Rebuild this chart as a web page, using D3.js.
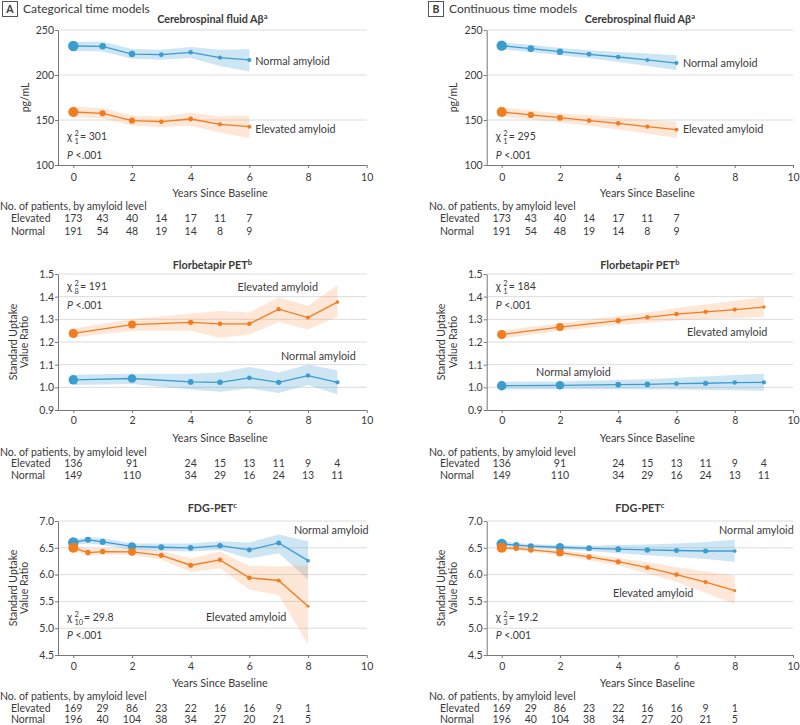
<!DOCTYPE html>
<html><head><meta charset="utf-8">
<script src="https://cdn.jsdelivr.net/npm/d3@7"></script>
<style>
body{margin:0;background:#fff;}
text{font-family:Lato,"Open Sans",sans-serif;fill:#3a3a3a;}
</style></head>
<body><svg id="c" width="800" height="725"></svg>
<script>
// ---------- DATA ----------
const xTicks = [0, 2, 4, 6, 8, 10];
// Cerebrospinal fluid Abeta
const csfX = [0, 1, 2, 3, 4, 5, 6];
const csfTableX = [0, 1, 2, 3, 4, 5, 6];
const csfElevN = [173, 43, 40, 14, 17, 11, 7];
const csfNormN = [191, 54, 48, 19, 14, 8, 9];
const csfCatNorm = [232.2, 231.9, 223.3, 222.6, 225.2, 219.3, 216.7];
const csfCatNormLo = [227, 226, 218, 217, 219, 210, 204];
const csfCatNormHi = [237, 237, 229, 228, 231, 228, 229];
const csfCatElev = [158.9, 157.4, 149.3, 148.1, 151.1, 145.2, 142.6];
const csfCatElevLo = [153, 152, 144, 142, 144, 136, 130];
const csfCatElevHi = [165, 163, 155, 154, 158, 154, 155];
const csfConNorm = [232.6, 229.3, 225.9, 223.0, 220.0, 216.7, 213.3];
const csfConNormLo = [228.5, 225.5, 222, 218.5, 214.5, 210, 205.6];
const csfConNormHi = [236.3, 233.5, 230, 227.5, 225.5, 224, 222];
const csfConElev = [158.9, 155.6, 152.6, 149.3, 146.3, 142.6, 139.3];
const csfConElevLo = [153.5, 150.5, 147.5, 143.5, 139.5, 135, 130];
const csfConElevHi = [164, 160.5, 157.5, 155, 153, 150.5, 148];
// Florbetapir PET
const fbpX = [0, 2, 4, 5, 6, 7, 8, 9];
const fbpElevN = [136, 91, 24, 15, 13, 11, 9, 4];
const fbpNormN = [149, 110, 34, 29, 16, 24, 13, 11];
const fbpCatElev = [1.238, 1.277, 1.287, 1.280, 1.280, 1.345, 1.308, 1.376];
const fbpCatElevLo = [1.22, 1.25, 1.25, 1.218, 1.233, 1.288, 1.255, 1.312];
const fbpCatElevHi = [1.26, 1.30, 1.326, 1.337, 1.33, 1.397, 1.36, 1.452];
const fbpCatNorm = [1.033, 1.039, 1.024, 1.022, 1.042, 1.022, 1.052, 1.022];
const fbpCatNormLo = [1.01, 1.015, 0.99, 0.98, 0.995, 0.975, 1.01, 0.97];
const fbpCatNormHi = [1.055, 1.06, 1.06, 1.065, 1.09, 1.065, 1.10, 1.075];
const fbpConElev = [1.233, 1.266, 1.294, 1.309, 1.323, 1.333, 1.343, 1.354];
const fbpConElevLo = [1.215, 1.25, 1.275, 1.285, 1.295, 1.30, 1.305, 1.31];
const fbpConElevHi = [1.25, 1.283, 1.315, 1.33, 1.35, 1.365, 1.382, 1.40];
const fbpConNorm = [1.007, 1.009, 1.012, 1.013, 1.016, 1.018, 1.021, 1.022];
const fbpConNormLo = [0.99, 0.992, 0.992, 0.99, 0.99, 0.988, 0.987, 0.985];
const fbpConNormHi = [1.025, 1.026, 1.032, 1.036, 1.042, 1.048, 1.054, 1.06];
// FDG-PET
const fdgX = [0, 0.5, 1, 2, 3, 4, 5, 6, 7, 8];
const fdgTableX = [0, 1, 2, 3, 4, 5, 6, 7, 8];
const fdgElevN = [169, 29, 86, 23, 22, 16, 16, 9, 1];
const fdgNormN = [196, 40, 104, 38, 34, 27, 20, 21, 5];
const fdgElevPointN = [169, 29, 29, 86, 23, 22, 16, 16, 9, 1];
const fdgNormPointN = [196, 40, 40, 104, 38, 34, 27, 20, 21, 5];
const fdgCatNorm = [6.60, 6.65, 6.61, 6.525, 6.51, 6.50, 6.54, 6.46, 6.59, 6.26];
const fdgCatNormLo = [6.55, 6.58, 6.55, 6.46, 6.44, 6.43, 6.46, 6.30, 6.40, 5.91];
const fdgCatNormHi = [6.66, 6.70, 6.68, 6.58, 6.58, 6.58, 6.62, 6.60, 6.75, 6.62];
const fdgCatElev = [6.50, 6.41, 6.43, 6.425, 6.36, 6.175, 6.275, 5.94, 5.89, 5.41];
const fdgCatElevLo = [6.45, 6.35, 6.37, 6.37, 6.28, 6.05, 6.12, 5.72, 5.62, 4.70];
const fdgCatElevHi = [6.56, 6.48, 6.49, 6.48, 6.44, 6.30, 6.43, 6.16, 6.15, 6.17];
const fdgConNorm = [6.57, 6.55, 6.53, 6.51, 6.49, 6.475, 6.46, 6.45, 6.44, 6.44];
const fdgConNormLo = [6.53, 6.52, 6.50, 6.47, 6.44, 6.40, 6.36, 6.33, 6.29, 6.24];
const fdgConNormHi = [6.62, 6.59, 6.57, 6.55, 6.54, 6.55, 6.56, 6.58, 6.61, 6.65];
const fdgConElev = [6.50, 6.49, 6.46, 6.41, 6.33, 6.24, 6.13, 6.00, 5.86, 5.70];
const fdgConElevLo = [6.46, 6.45, 6.42, 6.36, 6.27, 6.17, 6.02, 5.86, 5.66, 5.45];
const fdgConElevHi = [6.54, 6.53, 6.50, 6.46, 6.39, 6.31, 6.23, 6.14, 6.06, 5.98];

// ---------- STYLE / LAYOUT ----------
const BLUE = "#3b9dcf", ORANGE = "#f27c20";
const BLUE_BAND = "rgba(80,160,215,0.28)", ORANGE_BAND = "rgba(250,160,90,0.25)";
const svg = d3.select("#c");
const cols = {
  A: {axisX: 58, xr: [73.3, 366.7], tableLeft: 0},
  B: {axisX: 486.7, xr: [501.7, 793], tableLeft: 429}
};
const rows = [
  {title: "Cerebrospinal fluid Aβ", sup: "a", titleY: 18.5, yr: [165, 30], dom: [100, 250], ticks: [100, 150, 200, 250], fmt: d3.format("d"),
   ylab: ["pg/mL"], statDy: [106, 125], xlabY: 193, headY: 206, elevY: 218, normY: 231, tickLabY: 177},
  {title: "Florbetapir PET", sup: "b", titleY: 265, yr: [410, 274], dom: [0.9, 1.5], ticks: [0.9, 1.0, 1.1, 1.2, 1.3, 1.4, 1.5], fmt: d3.format(".1f"),
   ylab: ["Standard Uptake", "Value Ratio"], statDy: [12, 31], xlabY: 438, headY: 452, elevY: 463, normY: 475, tickLabY: 420},
  {title: "FDG-PET", sup: "c", titleY: 508, yr: [655, 521], dom: [4.5, 7.0], ticks: [4.5, 5.0, 5.5, 6.0, 6.5, 7.0], fmt: d3.format(".1f"),
   ylab: ["Standard Uptake", "Value Ratio"], statDy: [96, 114], xlabY: 683, headY: 696, elevY: 707.5, normY: 718.5, tickLabY: 666}
];

const panels = [
  {col: "A", row: 0, x: csfX, tableX: csfTableX, elevN: csfElevN, normN: csfNormN, elevPN: csfElevN, normPN: csfNormN,
   norm: [csfCatNorm, csfCatNormLo, csfCatNormHi], elev: [csfCatElev, csfCatElevLo, csfCatElevHi],
   chiSub: "1", chiVal: "301", normLab: [6.2, 216], elevLab: [6.2, 140]},
  {col: "B", row: 0, x: csfX, tableX: csfTableX, elevN: csfElevN, normN: csfNormN, elevPN: csfElevN, normPN: csfNormN,
   norm: [csfConNorm, csfConNormLo, csfConNormHi], elev: [csfConElev, csfConElevLo, csfConElevHi],
   chiSub: "1", chiVal: "295", normLab: [6.22, 213.5], elevLab: [6.22, 140]},
  {col: "A", row: 1, x: fbpX, tableX: fbpX, elevN: fbpElevN, normN: fbpNormN, elevPN: fbpElevN, normPN: fbpNormN,
   norm: [fbpCatNorm, fbpCatNormLo, fbpCatNormHi], elev: [fbpCatElev, fbpCatElevLo, fbpCatElevHi],
   chiSub: "8", chiVal: "191", normLab: [7.08, 1.138], elevLab: [5.6, 1.443]},
  {col: "B", row: 1, x: fbpX, tableX: fbpX, elevN: fbpElevN, normN: fbpNormN, elevPN: fbpElevN, normPN: fbpNormN,
   norm: [fbpConNorm, fbpConNormLo, fbpConNormHi], elev: [fbpConElev, fbpConElevLo, fbpConElevHi],
   chiSub: "1", chiVal: "184", normLab: [1.18, 1.068], elevLab: [6.36, 1.244]},
  {col: "A", row: 2, x: fdgX, tableX: fdgTableX, elevN: fdgElevN, normN: fdgNormN, elevPN: fdgElevPointN, normPN: fdgNormPointN,
   norm: [fdgCatNorm, fdgCatNormLo, fdgCatNormHi], elev: [fdgCatElev, fdgCatElevLo, fdgCatElevHi],
   chiSub: "10", chiVal: "29.8", normLab: [7.52, 6.83], elevLab: [4.52, 5.21]},
  {col: "B", row: 2, x: fdgX, tableX: fdgTableX, elevN: fdgElevN, normN: fdgNormN, elevPN: fdgElevPointN, normPN: fdgNormPointN,
   norm: [fdgConNorm, fdgConNormLo, fdgConNormHi], elev: [fdgConElev, fdgConElevLo, fdgConElevHi],
   chiSub: "3", chiVal: "19.2", normLab: [7.46, 6.83], elevLab: [3.82, 5.66]}
];

const rScale = n => 1.2 + 0.29 * Math.sqrt(n);

// headers
[["A", 2, "Categorical time models"], ["B", 428, "Continuous time models"]].forEach(([l, x0, t]) => {
  svg.append("rect").attr("x", x0 + 0.5).attr("y", 1.5).attr("width", 15).attr("height", 15)
    .attr("fill", "#fff").attr("stroke", "#555").attr("stroke-width", 1);
  svg.append("text").attr("x", x0 + 8).attr("y", 13).attr("text-anchor", "middle")
    .attr("font-size", 10.5).attr("font-weight", 700).text(l);
  svg.append("text").attr("x", x0 + 21).attr("y", 13).attr("font-size", 12).text(t);
});

panels.forEach(p => {
  const c = cols[p.col], r = rows[p.row];
  const x = d3.scaleLinear().domain([0, 10]).range(c.xr);
  const y = d3.scaleLinear().domain(r.dom).range(r.yr);
  const g = svg.append("g");

  // gridlines
  g.selectAll(".grid").data(r.ticks.slice(1)).join("line")
    .attr("x1", c.axisX).attr("x2", x(10)).attr("y1", d => y(d)).attr("y2", d => y(d))
    .attr("stroke", "#dcdcdc").attr("stroke-width", 1);

  // title
  const tt = g.append("text").attr("x", (c.axisX + x(10)) / 2).attr("y", r.titleY + 4)
    .attr("text-anchor", "middle").attr("font-size", 10.8).attr("font-weight", 700).attr("fill", "#333");
  tt.append("tspan").text(r.title);
  tt.append("tspan").attr("font-size", 7.5).attr("dy", -4).text(r.sup);

  // bands + lines + points
  [[p.norm, BLUE_BAND, p.normPN], [p.elev, ORANGE_BAND, p.elevPN]].forEach(([s, band, pn]) => {
    const pts = p.x.map((xv, i) => ({x: xv, lo: s[1][i], hi: s[2][i]}));
    g.append("path").datum(pts).attr("fill", band)
      .attr("d", d3.area().x(d => x(d.x)).y0(d => y(d.lo)).y1(d => y(d.hi)));
  });
  [[p.norm, BLUE, p.normPN], [p.elev, ORANGE, p.elevPN]].forEach(([s, col, pn]) => {
    const pts = p.x.map((xv, i) => ({x: xv, v: s[0][i], n: pn[i]}));
    g.append("path").datum(pts).attr("fill", "none").attr("stroke", col).attr("stroke-width", 1.3)
      .attr("d", d3.line().x(d => x(d.x)).y(d => y(d.v)));
    g.selectAll(null).data(pts).join("circle")
      .attr("cx", d => x(d.x)).attr("cy", d => y(d.v)).attr("r", d => rScale(d.n)).attr("fill", col);
  });

  // y axis
  const ya = g.append("g").attr("transform", `translate(${c.axisX},0)`)
    .call(d3.axisLeft(y).tickValues(r.ticks).tickFormat(r.fmt).tickSize(3).tickSizeOuter(0));
  ya.select(".domain").attr("stroke", "#777");
  ya.selectAll(".tick line").attr("stroke", "#777");
  ya.selectAll(".tick text").attr("font-size", 10.5).attr("fill", "#444").attr("font-family", "Lato,sans-serif").attr("x", -4);

  // x axis
  g.append("line").attr("x1", c.axisX).attr("x2", x(10)).attr("y1", r.yr[0] + 0.5).attr("y2", r.yr[0] + 0.5)
    .attr("stroke", "#777");
  const xa = g.append("g").attr("transform", `translate(0,${r.yr[0]})`)
    .call(d3.axisBottom(x).tickValues(xTicks).tickSize(3).tickSizeOuter(0));
  xa.select(".domain").remove();
  xa.selectAll(".tick line").attr("stroke", "#777");
  xa.selectAll(".tick text").attr("font-size", 10.5).attr("fill", "#444").attr("font-family", "Lato,sans-serif")
    .attr("y", 0).attr("dy", null).attr("transform", `translate(0,${r.tickLabY - r.yr[0] + 4})`);

  // x label
  g.append("text").attr("x", x(5)).attr("y", r.xlabY + 4).attr("text-anchor", "middle").attr("font-size", 10.8)
    .text("Years Since Baseline");

  // y label
  const ylx = c.axisX - (r.ylab.length === 1 ? 33 : 45);
  r.ylab.forEach((t, i) => {
    g.append("text").attr("transform", `translate(${ylx + i * 11.5},${(r.yr[0] + r.yr[1]) / 2}) rotate(-90)`)
      .attr("text-anchor", "middle").attr("font-size", 10.5).attr("dy", "0.35em").text(t);
  });

  // stats
  const sx = c.axisX + 9, sy = r.yr[1] + r.statDy[0] + 4;
  g.append("text").attr("x", sx).attr("y", sy).attr("font-size", 10.5).text("χ");
  g.append("text").attr("x", sx + 7.5).attr("y", sy - 4.5).attr("font-size", 7.5).text("2");
  g.append("text").attr("x", sx + 7.5).attr("y", sy + 3.5).attr("font-size", 7.5).text(p.chiSub);
  g.append("text").attr("x", sx + 8 + (p.chiSub.length > 1 ? 9 : 5)).attr("y", sy).attr("font-size", 10.5)
    .text("= " + p.chiVal);
  const pt = g.append("text").attr("x", sx).attr("y", r.yr[1] + r.statDy[1] + 4).attr("font-size", 10.5);
  pt.append("tspan").attr("font-style", "italic").text("P");
  pt.append("tspan").text(" <.001");

  // series labels
  g.append("text").attr("x", x(p.normLab[0])).attr("y", y(p.normLab[1]) + 4).attr("font-size", 10.8).text("Normal amyloid");
  g.append("text").attr("x", x(p.elevLab[0])).attr("y", y(p.elevLab[1]) + 4).attr("font-size", 10.8).text("Elevated amyloid");

  // at-risk table
  g.append("text").attr("x", c.tableLeft).attr("y", r.headY + 4).attr("font-size", 10.5).text("No. of patients, by amyloid level");
  g.append("text").attr("x", c.tableLeft + 11).attr("y", r.elevY + 4).attr("font-size", 10.5).text("Elevated");
  g.append("text").attr("x", c.tableLeft + 11).attr("y", r.normY + 4).attr("font-size", 10.5).text("Normal");
  g.selectAll(null).data(p.tableX.map((xv, i) => ({x: xv, e: p.elevN[i], n: p.normN[i]}))).join(enter => {
    const t = enter.append("g");
    t.append("text").attr("x", d => x(d.x)).attr("y", r.elevY + 4).attr("text-anchor", "middle").attr("font-size", 10.5).text(d => d.e);
    t.append("text").attr("x", d => x(d.x)).attr("y", r.normY + 4).attr("text-anchor", "middle").attr("font-size", 10.5).text(d => d.n);
    return t;
  });
});
</script></body></html>
